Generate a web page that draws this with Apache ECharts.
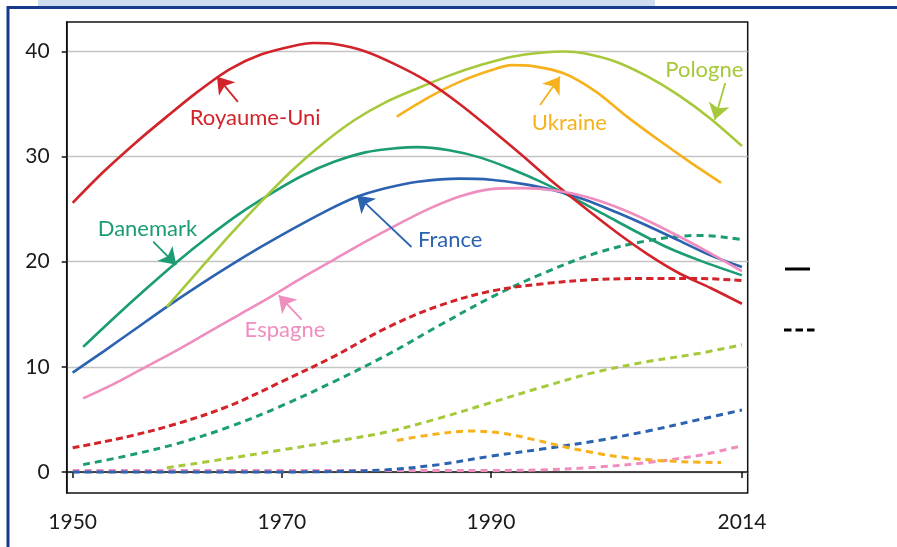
<!DOCTYPE html>
<html>
<head>
<meta charset="utf-8">
<script src="https://cdn.jsdelivr.net/npm/echarts@6/dist/echarts.min.js"></script>
<style>
html,body{margin:0;padding:0;background:#fff;}
#chart{width:897px;height:547px;}
</style>
</head>
<body>
<div id="chart"></div>
<script>
// ---- Data ----
const xTickLabels = [1950, 1970, 1990, 2014];
const yTickLabels = [0, 10, 20, 30, 40];

// Solid lines
const ukYears = [1950,1953,1956,1959,1962,1965,1968,1971,1973,1975,1978,1981,1984,1987,1990,1993,1996,1999,2002,2005,2008,2011,2014];
const ukSolid = [25.6,28.6,31.3,33.8,36.2,38.3,39.7,40.5,40.8,40.7,40.0,38.7,37.1,35.0,32.6,30.1,27.5,25.1,22.8,20.7,18.9,17.5,16.0];

const plYears = [1959,1962,1965,1968,1971,1974,1977,1980,1983,1986,1989,1992,1995,1997,1999,2002,2005,2008,2011,2014];
const plSolid = [15.7,19.1,22.5,25.7,28.7,31.3,33.5,35.2,36.5,37.7,38.7,39.5,39.9,40.0,39.8,39.0,37.6,35.8,33.6,31.0];

const uaYears = [1981,1984,1987,1990,1992,1994,1997,2000,2003,2006,2009,2012];
const uaSolid = [33.8,35.6,37.1,38.2,38.7,38.6,37.9,36.2,33.8,31.6,29.5,27.5];

const dkYears = [1951,1954,1957,1960,1963,1966,1969,1972,1975,1978,1981,1983,1986,1989,1992,1995,1998,2001,2004,2007,2010,2014];
const dkSolid = [11.9,14.7,17.4,20.0,22.4,24.6,26.5,28.2,29.5,30.4,30.8,30.9,30.6,29.9,28.8,27.5,26.0,24.4,22.8,21.3,20.1,18.7];

const frYears = [1950,1953,1956,1959,1962,1965,1968,1971,1974,1977,1980,1983,1987,1990,1993,1996,1999,2002,2005,2008,2011,2014];
const frSolid = [9.45,11.5,13.6,15.7,17.7,19.6,21.4,23.1,24.7,26.1,27.0,27.6,27.9,27.8,27.4,26.8,25.9,24.7,23.4,22.0,20.6,19.5];

const esYears = [1951,1954,1957,1960,1963,1966,1969,1972,1975,1978,1981,1984,1987,1990,1993,1996,1999,2002,2005,2008,2011,2014];
const esSolid = [7.0,8.4,10.0,11.6,13.3,15.0,16.7,18.5,20.2,21.9,23.5,25.0,26.2,26.9,27.0,26.8,26.2,25.2,23.9,22.4,20.8,19.1];

// Dashed lines
const ukDashYears = [1950,1955,1960,1965,1970,1975,1980,1985,1990,1995,2000,2005,2010,2014];
const ukDash = [2.3,3.3,4.6,6.3,8.6,11.0,13.7,15.8,17.2,17.9,18.3,18.4,18.4,18.2];

const dkDashYears = [1951,1955,1960,1965,1970,1975,1980,1985,1990,1995,2000,2005,2010,2014];
const dkDash = [0.7,1.5,2.7,4.3,6.3,8.6,11.1,13.9,16.6,18.9,20.8,22.0,22.5,22.1];

const plDashYears = [1959,1965,1970,1975,1980,1985,1990,1995,2000,2005,2010,2014];
const plDash = [0.4,1.3,2.1,2.9,3.8,5.1,6.6,8.1,9.5,10.5,11.3,12.1];

const uaDashYears = [1981,1984,1988,1991,1994,1997,2000,2003,2006,2009,2012];
const uaDash = [3.0,3.5,3.9,3.7,3.1,2.4,1.8,1.35,1.1,0.95,0.9];

const frDashYears = [1950,1955,1960,1965,1970,1975,1980,1985,1990,1995,2000,2005,2010,2014];
const frDash = [0,0,0,0,0,0.05,0.2,0.7,1.5,2.2,2.95,3.9,5.0,5.9];

const esDashYears = [1950,1955,1960,1965,1970,1975,1980,1985,1990,1995,2000,2005,2010,2014];
const esDash = [0.15,0.15,0.15,0.15,0.15,0.15,0.15,0.15,0.15,0.2,0.45,0.9,1.6,2.5];

// Annotation labels: [labelX, labelY, arrowFromX, arrowFromY, arrowToX, arrowToY]
const annotations = {
  'Royaume-Uni': [1967.45, 33.7, 1965.8, 35.2, 1963.8, 37.6],
  'Danemark':    [1957.15, 23.1, 1957.7, 21.9, 1959.9, 19.7],
  'Pologne':     [2010.4, 38.2, 2012.4, 37.0, 2011.4, 33.5],
  'Ukraine':     [1997.5, 33.2, 1994.7, 34.9, 1996.6, 37.6],
  'France':      [1986.1, 22.1, 1982.4, 21.4, 1977.2, 26.3],
  'Espagne':     [1970.3, 13.5, 1971.9, 14.5, 1969.7, 16.8]
};

const colors = {
  'Royaume-Uni': '#d2232a',
  'Pologne': '#a6c93b',
  'Ukraine': '#f6b11c',
  'Danemark': '#1b9c74',
  'France': '#2b63b0',
  'Espagne': '#ef8dbf'
};

function pairs(xs, ys){ return xs.map((x,i)=>[x, ys[i]]); }

const FONT = 'Lato, "Open Sans", sans-serif';

function dashed(name, xs, ys, dash){
  return {
    name: name + ' (tirets)', type:'line', data: pairs(xs, ys), smooth: 0.35,
    symbol:'none', silent:true, z:2,
    lineStyle:{color: colors[name], width: 3, type: dash}
  };
}
function solid(name, xs, ys){
  const a = annotations[name];
  return {
    name: name, type:'line', data: pairs(xs, ys), smooth: 0.3,
    symbol:'none', silent:true, z:3,
    lineStyle:{color: colors[name], width: 2.6},
    markPoint:{
      silent:true, symbol:'circle', symbolSize:0,
      label:{show:true, position:'inside', formatter: name, color: colors[name],
             fontSize: 22, fontFamily: FONT},
      data:[{coord:[a[0], a[1]]}]
    },
    markLine:{
      silent:true, symbol:['none','arrow'], symbolSize:16,
      label:{show:false},
      lineStyle:{color: colors[name], width: 1.8, type:'solid'},
      data:[[{coord:[a[2], a[3]]},{coord:[a[4], a[5]]}]]
    }
  };
}

const chart = echarts.init(document.getElementById('chart'), null, {renderer:'canvas'});
chart.setOption({
  animation:false,
  backgroundColor:'#ffffff',
  grid:{left:66.7, top:22, right:149.3, bottom:54, show:true, borderColor:'#111', borderWidth:1.5, backgroundColor:'transparent'},
  xAxis:{
    type:'value', min:1949.43, max:2014.55,
    axisLine:{show:true, lineStyle:{color:'#111', width:1.5}},
    axisTick:{show:true, customValues:xTickLabels, length:6, lineStyle:{color:'#111', width:1.5}},
    axisLabel:{show:true, customValues:xTickLabels, formatter:(v)=>String(v), fontSize:21, fontFamily:FONT, color:'#1a1a1a', margin:19},
    splitLine:{show:false}
  },
  yAxis:{
    type:'value', min:-2, max:42.8,
    axisLine:{show:true, lineStyle:{color:'#111', width:1.5}},
    axisTick:{show:true, customValues:yTickLabels, length:5, lineStyle:{color:'#111', width:1.5}},
    axisLabel:{show:true, customValues:yTickLabels, formatter:(v)=>String(v), fontSize:21, fontFamily:FONT, color:'#1a1a1a', margin:17},
    splitLine:{show:true, lineStyle:{color:'#c4c4c4', width:1.3}}
  },
  series:[
    dashed('Espagne', esDashYears, esDash, [7,5]),
    dashed('France', frDashYears, frDash, [7,5]),
    dashed('Ukraine', uaDashYears, uaDash, [7,5]),
    dashed('Pologne', plDashYears, plDash, [7,5]),
    dashed('Danemark', dkDashYears, dkDash, [7,5]),
    dashed('Royaume-Uni', ukDashYears, ukDash, [7,4]),
    solid('Danemark', dkYears, dkSolid),
    solid('France', frYears, frSolid),
    solid('Pologne', plYears, plSolid),
    solid('Ukraine', uaYears, uaSolid),
    solid('Royaume-Uni', ukYears, ukSolid),
    solid('Espagne', esYears, esSolid)
  ],
  graphic:[
    {type:'rect', shape:{x:38, y:0, width:617, height:6}, style:{fill:'#d0ddef'}, silent:true},
    {type:'polyline', shape:{points:[[8,547],[8,7.5],[897,7.5]]}, style:{stroke:'#173a8c', lineWidth:3, fill:null}, silent:true},
    {type:'line', shape:{x1:785, y1:269, x2:810, y2:269}, style:{stroke:'#000', lineWidth:3}, silent:true},
    {type:'line', shape:{x1:784, y1:330, x2:815, y2:330}, style:{stroke:'#000', lineWidth:3, lineDash:[7.5,4]}, silent:true}
  ]
});
</script>
</body>
</html>
